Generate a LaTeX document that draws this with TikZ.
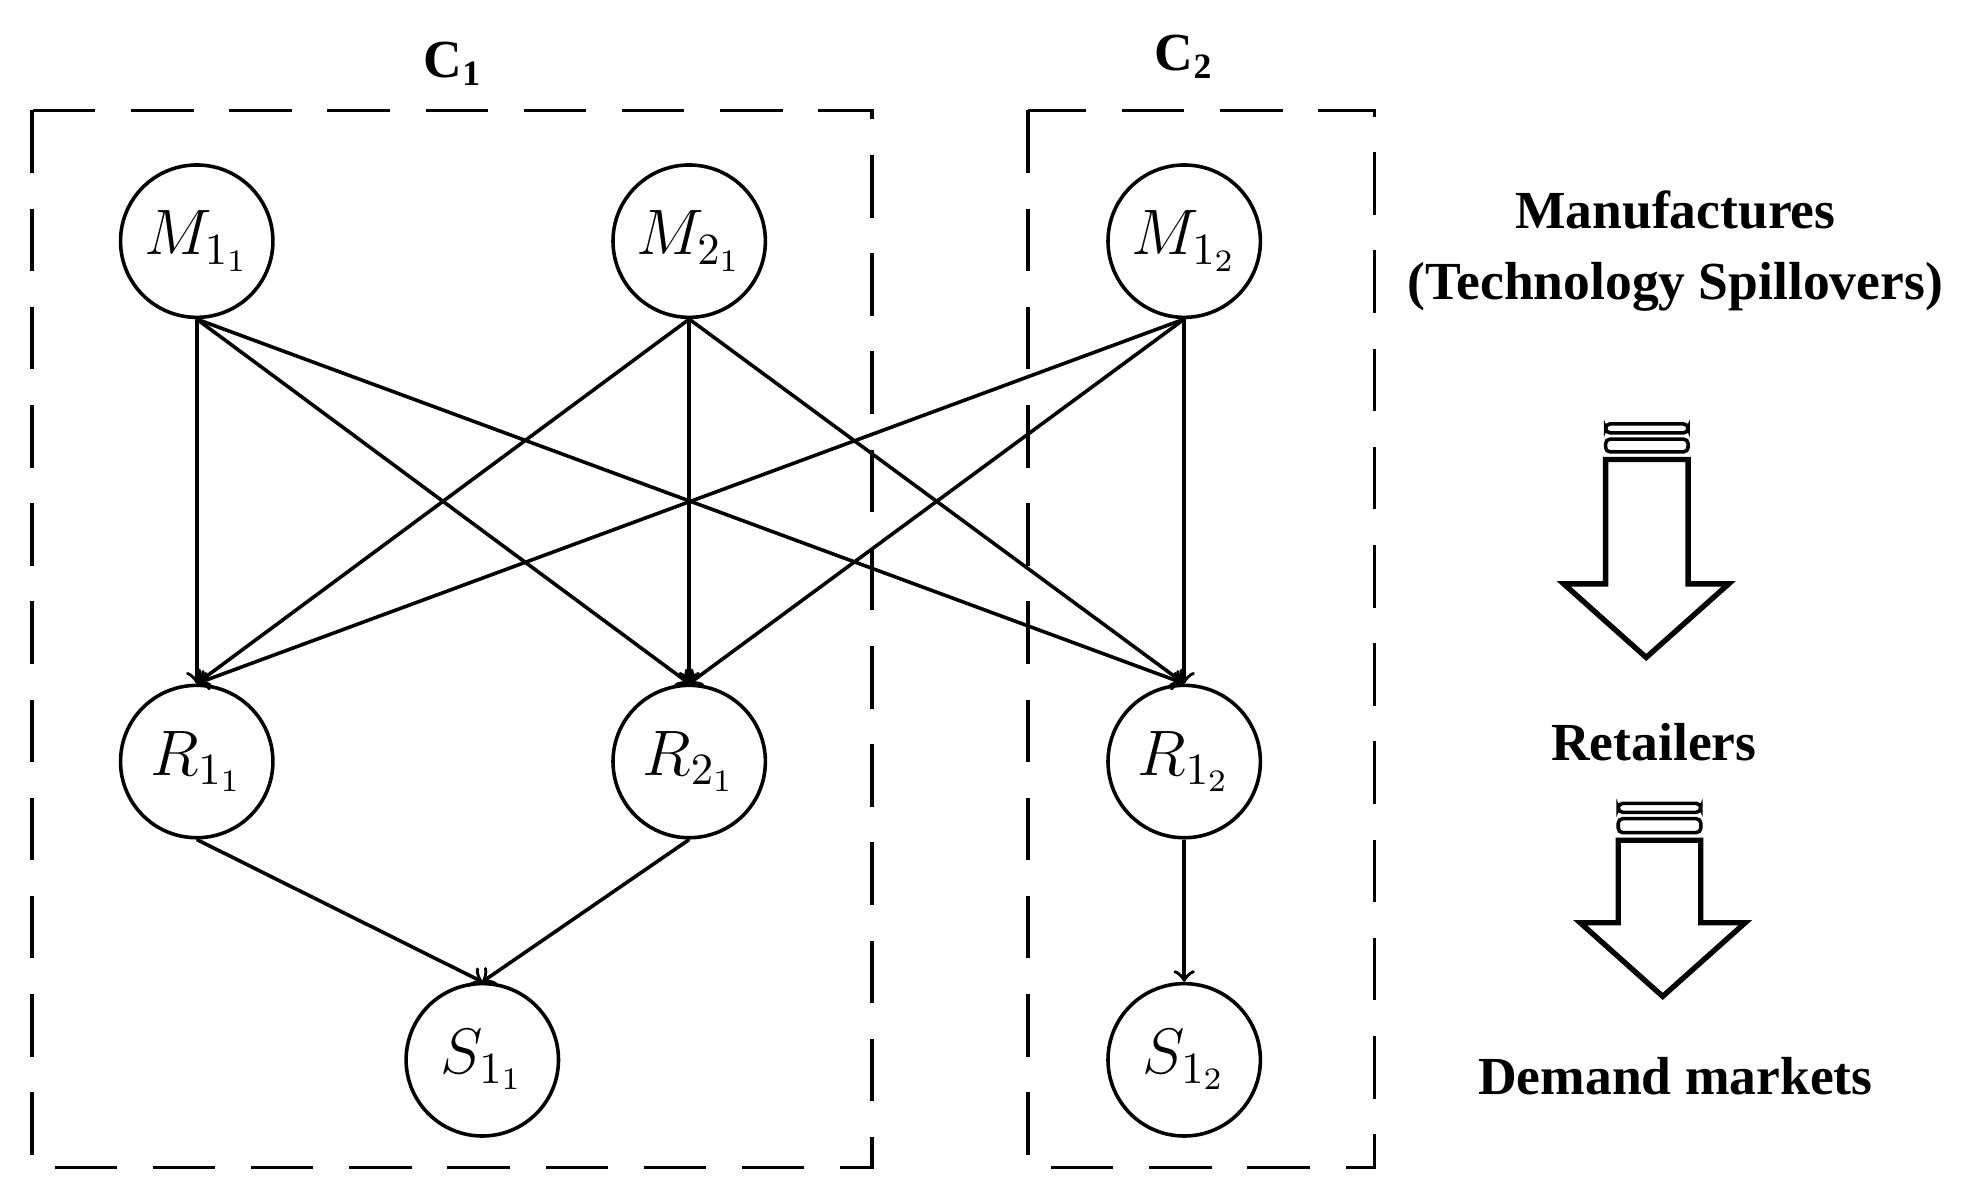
\documentclass[tikz,border=0pt]{standalone}
\usepackage{fontspec}
\setmainfont{Liberation Serif}
\usetikzlibrary{positioning}

\begin{document}
\begin{tikzpicture}[x=0.01cm, y=-0.01cm, every node/.style={font=\fontsize{12}{14}\selectfont},
        agent/.style={draw, thick, circle, minimum size=1.2cm, inner sep=0pt, font=\fontsize{14}{16}\selectfont},
        group/.style={draw, thick, dash pattern=on 14pt off 8pt},
        flow/.style={->, thick},
        tag/.style={font=\bfseries\fontsize{12}{14}\selectfont},
        block/.style={draw, very thick, fill=white}]
        \useasboundingbox (0,0) rectangle (1560,945);

        \draw[group] (25,87) rectangle (687,920);
        \draw[group] (810,87) rectangle (1083,920);
        \node[tag] (c1) at (357,50) {C$_\mathbf{1}$};
        \node[tag] (c2) at (933,45) {C$_\mathbf{2}$};

        \node[agent] (m11) at (155,190) {$M_{1_1}$};
        \node[agent] (m21) at (543,190) {$M_{2_1}$};
        \node[agent] (m12) at (933,190) {$M_{1_2}$};
        \node[agent] (r11) at (155,600) {$R_{1_1}$};
        \node[agent] (r21) at (543,600) {$R_{2_1}$};
        \node[agent] (r12) at (933,600) {$R_{1_2}$};
        \node[agent] (s11) at (380,835) {$S_{1_1}$};
        \node[agent] (s12) at (933,835) {$S_{1_2}$};

        \foreach \m in {m11,m21,m12}
            \foreach \r in {r11,r21,r12}
                \draw[flow] (\m.south) -- (\r.north);
        \draw[flow] (r11.south) -- (s11.north);
        \draw[flow] (r21.south) -- (s11.north);
        \draw[flow] (r12.south) -- (s12.north);

        \node[tag, align=center] (manu) at (1320,198) {Manufactures\\[2pt](Technology Spillovers)};
        \node[tag] (ret) at (1303,585) {Retailers};
        \node[tag] (dem) at (1320,848) {Demand markets};

        % block arrows
        \draw[block] (1265,362) -- (1265,460) -- (1232,460) -- (1297,518) -- (1362,460) -- (1330,460) -- (1330,362) -- cycle;
        \draw[thick, rounded corners=1pt] (1265,334) rectangle (1330,341);
        \draw[thick, rounded corners=1pt] (1265,346) rectangle (1330,356);
        \draw[block] (1275,662) -- (1275,727) -- (1245,727) -- (1310,785) -- (1375,727) -- (1340,727) -- (1340,662) -- cycle;
        \draw[thick, rounded corners=1pt] (1275,633) rectangle (1340,640);
        \draw[thick, rounded corners=1pt] (1275,645) rectangle (1340,656);
\end{tikzpicture}
\end{document}
